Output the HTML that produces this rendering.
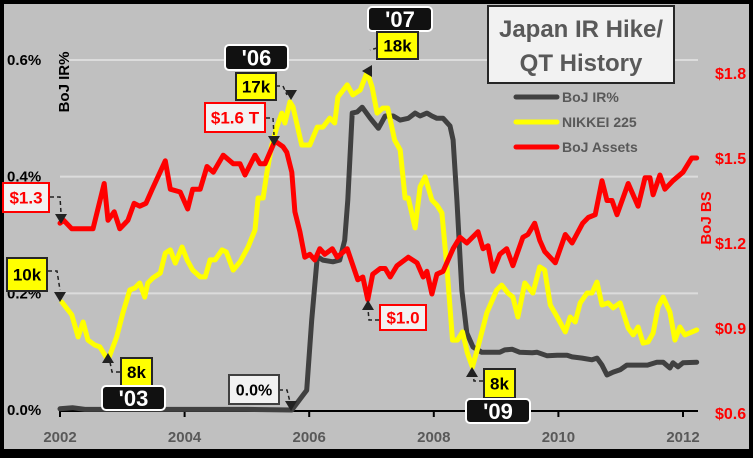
<!DOCTYPE html>
<html><head><meta charset="utf-8"><style>
html,body{margin:0;padding:0;}
body{width:753px;height:453px;overflow:hidden;background:#000;font-family:"Liberation Sans",sans-serif;}
svg text{font-family:"Liberation Sans",sans-serif;font-weight:bold;}
</style></head><body>
<svg id="chart" width="753" height="453" viewBox="0 0 753 453">
<rect x="4" y="4" width="745" height="445" fill="#c0c0c0"/>
<g id="grid"></g><g id="axes"></g><g id="series"></g>
<g id="title-box">
<rect x="488" y="6" width="186" height="77" fill="#f2f2f2" stroke="#262626" stroke-width="2"/>
<text x="581" y="37" text-anchor="middle" font-size="24" fill="#595959">Japan IR Hike/</text>
<text x="581" y="71" text-anchor="middle" font-size="24" fill="#595959">QT History</text>
</g>
<g font-size="14" fill="#595959">
<line x1="516" y1="97" x2="557" y2="97" stroke="#404040" stroke-width="5" stroke-linecap="round"/>
<text x="562" y="102">BoJ IR%</text>
<line x1="516" y1="122" x2="557" y2="122" stroke="#ffff00" stroke-width="5" stroke-linecap="round"/>
<text x="562" y="127">NIKKEI 225</text>
<line x1="516" y1="147" x2="557" y2="147" stroke="#ff0000" stroke-width="5" stroke-linecap="round"/>
<text x="562" y="152">BoJ Assets</text>
</g>
<text transform="translate(69,82) rotate(-90)" text-anchor="middle" font-size="15" fill="#000">BoJ IR%</text>
<text transform="translate(711,218) rotate(-90)" text-anchor="middle" font-size="15" fill="#ff0000">BoJ BS</text>
<g id="annotations"></g>
</svg>
<script>
const irYears=[2002.0,2002.2,2002.4,2003,2004,2005,2005.72,2005.96,2006.04,2006.13,2006.22,2006.38,2006.49,2006.57,2006.62,2006.69,2006.77,2006.85,2006.98,2007.11,2007.22,2007.35,2007.46,2007.59,2007.70,2007.78,2007.89,2007.97,2008.05,2008.15,2008.26,2008.31,2008.37,2008.45,2008.53,2008.63,2008.77,2009.06,2009.14,2009.26,2009.38,2009.58,2009.66,2009.82,2009.98,2010.14,2010.22,2010.38,2010.54,2010.62,2010.70,2010.78,2010.88,2010.99,2011.10,2011.26,2011.43,2011.58,2011.68,2011.79,2011.84,2011.92,2012.00,2012.22];
const irValues=[0.002,0.004,0.001,0.001,0.001,0.001,0,0.034,0.154,0.263,0.257,0.254,0.257,0.291,0.36,0.509,0.511,0.519,0.50,0.483,0.504,0.504,0.497,0.50,0.509,0.504,0.509,0.504,0.50,0.50,0.487,0.463,0.36,0.206,0.132,0.108,0.099,0.099,0.103,0.104,0.099,0.098,0.099,0.093,0.094,0.094,0.091,0.089,0.086,0.089,0.077,0.060,0.065,0.069,0.077,0.077,0.077,0.082,0.082,0.072,0.081,0.074,0.081,0.082];
const nkYears=[2002.03,2002.19,2002.29,2002.37,2002.45,2002.56,2002.64,2002.77,2002.91,2003.01,2003.12,2003.20,2003.28,2003.36,2003.41,2003.49,2003.61,2003.69,2003.77,2003.85,2003.96,2004.04,2004.13,2004.25,2004.33,2004.41,2004.49,2004.60,2004.67,2004.78,2004.89,2005.02,2005.13,2005.18,2005.26,2005.32,2005.40,2005.48,2005.56,2005.61,2005.69,2005.74,2005.80,2005.88,2006.01,2006.13,2006.22,2006.33,2006.41,2006.46,2006.61,2006.70,2006.82,2006.93,2007.01,2007.09,2007.18,2007.26,2007.37,2007.46,2007.54,2007.59,2007.70,2007.78,2007.86,2007.97,2008.05,2008.13,2008.21,2008.30,2008.38,2008.46,2008.54,2008.62,2008.71,2008.85,2009.01,2009.09,2009.19,2009.27,2009.35,2009.46,2009.59,2009.70,2009.78,2009.87,2009.98,2010.11,2010.19,2010.27,2010.35,2010.46,2010.54,2010.62,2010.70,2010.80,2010.88,2010.99,2011.12,2011.20,2011.28,2011.36,2011.44,2011.52,2011.60,2011.68,2011.79,2011.87,2011.95,2012.03,2012.22];
const nkValues=[10.08,9.64,8.89,9.40,8.78,8.61,8.55,8.10,8.89,9.71,10.49,10.56,10.73,10.25,10.73,10.90,11.07,11.75,11.86,11.41,11.96,11.52,11.17,10.94,10.94,11.52,11.52,11.86,11.79,11.17,11.45,11.96,12.54,13.63,13.63,14.48,15.44,16.05,16.53,16.19,16.91,16.74,16.19,15.44,15.44,16.05,16.05,16.36,16.19,17.08,17.49,17.15,17.32,17.93,17.42,16.53,16.70,16.70,15.61,15.27,13.63,13.63,12.61,14.01,14.35,13.56,13.39,13.12,11.28,8.78,8.78,9.06,8.34,7.86,8.55,9.71,10.49,10.66,10.39,10.25,9.57,10.73,10.39,11.28,11.17,9.98,9.57,9.06,9.57,9.40,10.05,10.39,10.39,10.76,9.98,10.05,9.88,10.05,9.19,8.96,9.23,8.68,8.72,9.02,9.91,10.25,9.74,8.78,9.23,8.96,9.13];
const bsYears=[2002.00,2002.06,2002.19,2002.32,2002.45,2002.53,2002.71,2002.77,2002.87,2002.96,2003.09,2003.19,2003.28,2003.38,2003.48,2003.69,2003.77,2003.93,2004.05,2004.13,2004.25,2004.36,2004.46,2004.62,2004.78,2004.89,2004.97,2005.13,2005.21,2005.29,2005.45,2005.58,2005.64,2005.72,2005.77,2005.85,2005.93,2006.01,2006.09,2006.17,2006.25,2006.37,2006.45,2006.61,2006.78,2006.86,2006.94,2007.02,2007.14,2007.22,2007.30,2007.41,2007.59,2007.73,2007.83,2007.89,2007.97,2008.05,2008.15,2008.31,2008.42,2008.53,2008.71,2008.79,2008.87,2008.95,2009.06,2009.17,2009.27,2009.43,2009.51,2009.62,2009.70,2009.78,2009.95,2010.11,2010.22,2010.39,2010.48,2010.59,2010.70,2010.78,2010.86,2010.94,2011.12,2011.28,2011.39,2011.47,2011.52,2011.63,2011.71,2011.84,2012.00,2012.14,2012.22];
const bsValues=[1.27,1.28,1.25,1.25,1.25,1.25,1.41,1.28,1.31,1.25,1.28,1.34,1.33,1.34,1.39,1.49,1.39,1.38,1.32,1.39,1.39,1.47,1.45,1.51,1.48,1.48,1.44,1.51,1.48,1.48,1.56,1.54,1.52,1.45,1.31,1.24,1.15,1.16,1.14,1.18,1.16,1.18,1.15,1.18,1.07,1.08,1.00,1.09,1.11,1.11,1.08,1.12,1.15,1.13,1.08,1.10,1.02,1.09,1.10,1.18,1.22,1.20,1.24,1.18,1.19,1.10,1.16,1.18,1.12,1.22,1.23,1.27,1.21,1.17,1.13,1.23,1.20,1.27,1.29,1.30,1.42,1.35,1.35,1.30,1.41,1.33,1.43,1.43,1.37,1.44,1.39,1.42,1.45,1.50,1.50];
const xTickLabels=["2002","2004","2006","2008","2010","2012"];
const xTickYears=[2002,2004,2006,2008,2010,2012];
const leftTicks=[0,0.2,0.4,0.6];
const leftTickLabels=["0.0%","0.2%","0.4%","0.6%"];
const rightTicks=[0.6,0.9,1.2,1.5,1.8];
const rightTickLabels=["$0.6","$0.9","$1.2","$1.5","$1.8"];

const NS="http://www.w3.org/2000/svg";
const X=y=>60+(y-2002)*62.3;
const YL=v=>410-v/0.6*350;
const YR=v=>413-(v-0.6)/0.3*85;
const YN=v=>363-(v-8)*29.3;
function mk(tag,attrs,parent,text){const e=document.createElementNS(NS,tag);for(const k in attrs)e.setAttribute(k,attrs[k]);if(text!==undefined)e.textContent=text;parent.appendChild(e);return e;}
const grid=document.getElementById('grid'),axes=document.getElementById('axes'),ser=document.getElementById('series'),ann=document.getElementById('annotations');
leftTicks.forEach((v,i)=>{
  if(v>0){const g=mk('line',{x1:60,x2:698,y1:YL(v),y2:YL(v),stroke:'#dcdcdc','stroke-width':2},grid);
  
  }
  const t=mk('text',{x:7,y:YL(v)+5,'font-size':15,fill:'#000'},axes,leftTickLabels[i]);
  
  
});
rightTicks.forEach((v,i)=>{
  const t=mk('text',{x:715,y:YR(v)+6,'font-size':16,fill:'#ff0000'},axes,rightTickLabels[i]);
  
  
});
const ax=mk('line',{x1:60,x2:698,y1:411,y2:411,stroke:'#000','stroke-width':2},axes);


xTickYears.forEach((yr,i)=>{
  const tk=mk('line',{x1:X(yr),x2:X(yr),y1:411,y2:417,stroke:'#000','stroke-width':2},axes);
  
  
  const t=mk('text',{x:X(yr),y:442,'text-anchor':'middle','font-size':15,fill:'#595959'},axes,xTickLabels[i]);
  
  
});
function line(xs,vs,yf,color,name){
  const d=xs.map((x,i)=>(i?'L':'M')+X(x).toFixed(1)+' '+yf(vs[i]).toFixed(1)).join(' ');
  const p=mk('path',{d:d,fill:'none',stroke:color,'stroke-width':5,'stroke-linejoin':'round','stroke-linecap':'round'},ser);
  
  
}
line(irYears,irValues,YL,'#404040','boj-ir-line');
line(nkYears,nkValues,YN,'#ffff00','nikkei-line');
line(bsYears,bsValues,YR,'#ff0000','boj-assets-line');

function box(x,y,w,h,fill,stroke,color,txt,fs,name,rx){
  const g=mk('g',{},ann);
  
  
  mk('rect',{x:x,y:y,width:w,height:h,fill:fill,stroke:stroke,'stroke-width':2,rx:rx||0},g);
  mk('text',{x:x+w/2,y:y+h/2+fs*0.36,'text-anchor':'middle','font-size':fs,fill:color},g,txt);
}
function arrow(d,tx,ty,dir,name){
  const g=mk('g',{},ann);
  
  
  mk('path',{d:d,fill:'none',stroke:'#222','stroke-width':1.5,'stroke-dasharray':'4 3'},g);
  const s=6;let pts;
  if(dir==='down')pts=`${tx},${ty} ${tx-s},${ty-10} ${tx+s},${ty-10}`;
  else if(dir==='up')pts=`${tx},${ty} ${tx-s},${ty+10} ${tx+s},${ty+10}`;
  else pts=`${tx},${ty} ${tx+10},${ty-s} ${tx+10},${ty+s}`;
  mk('polygon',{points:pts,fill:'#222'},g);
}
arrow('M50 197 L60 197 L61 213',61,224,'down','arrow-1.3');
arrow('M48 271 L57 271 L60 290',60,302,'down','arrow-10k');
arrow('M120 372 L112 372 L110 362',108,353,'up','arrow-8k-03');
arrow('M266 118 L273 118 L274 135',274,146,'down','arrow-1.6t');
arrow('M276 86 L283 86 L287 95',291,100,'down','arrow-17k');
arrow('M279 390 L287 390 L290 402',291,411,'down','arrow-0pct');
arrow('M379 320 L369 320 L368 309',368,300,'up','arrow-1.0');
arrow('M377 48 L370 50',362,71,'left','arrow-18k');
arrow('M483 381 L474 381 L473 374',472,367,'up','arrow-8k-09');
box(3,183,46,29,'#f2f2f2','#ff0000','#ff0000','$1.3',17,'label-1.3');
box(7,258,40,33,'#ffff00','#262626','#000','10k',17,'label-10k');
box(121,358,31,28,'#ffff00','#262626','#000','8k',17,'label-8k-03');
box(102,386,63,24,'#111','#fff','#fff',"'03",22,'label-03',4);
box(205,103,60,29,'#f2f2f2','#ff0000','#ff0000','$1.6 T',17,'label-1.6t');
box(236,73,40,27,'#ffff00','#262626','#000','17k',17,'label-17k');
box(225,45,63,25,'#111','#fff','#fff',"'06",22,'label-06',4);
box(229,375,50,29,'#f2f2f2','#404040','#000','0.0%',16,'label-0pct');
box(368,7,64,24,'#111','#fff','#fff',"'07",22,'label-07',4);
box(377,32,41,27,'#ffff00','#262626','#000','18k',17,'label-18k');
box(380,305,46,25,'#f2f2f2','#ff0000','#ff0000','$1.0',17,'label-1.0');
box(484,369,31,29,'#ffff00','#262626','#000','8k',17,'label-8k-09');
box(466,399,64,24,'#111','#fff','#fff',"'09",22,'label-09',4);
</script>
</body></html>
